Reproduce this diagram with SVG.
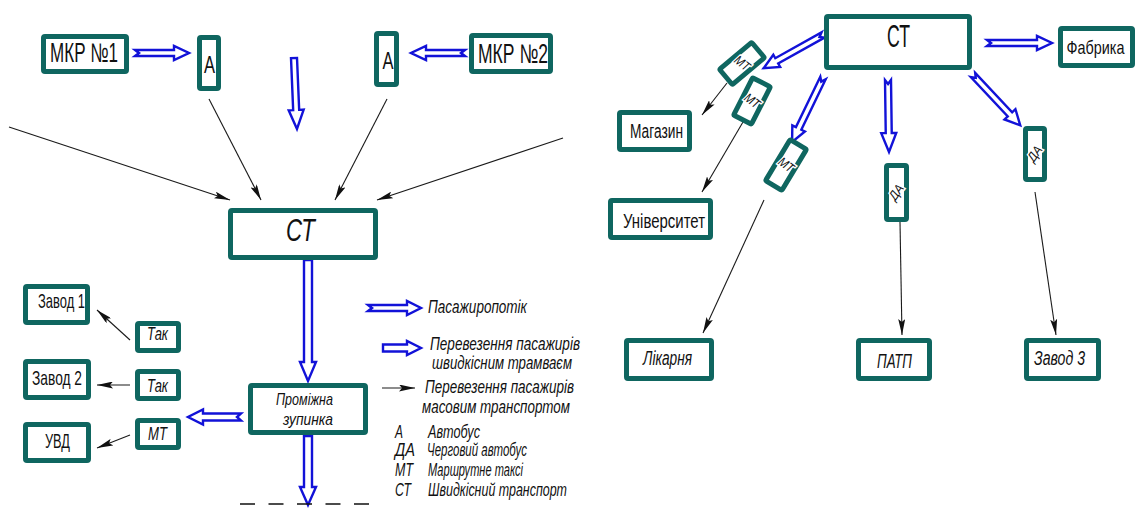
<svg xmlns="http://www.w3.org/2000/svg" width="1139" height="508" viewBox="0 0 1139 508">
  <style>
    .box { fill: #ffffff; stroke: #0f6660; stroke-width: 5; }
    .flow { fill: #ffffff; stroke: #1212d8; stroke-width: 2.4; stroke-linejoin: miter; }
    .link { fill: none; stroke: #1a1a1a; stroke-width: 1.1; marker-end: url(#tip); }
    .t { font-family: "Liberation Sans", "DejaVu Sans", sans-serif; fill: #111111; text-anchor: middle; }
    .i { font-style: italic; }
    .lg { font-family: "Liberation Sans", "DejaVu Sans", sans-serif; font-style: italic; fill: #111111; font-size: 18px; }
    .halo { paint-order: stroke; stroke: #ffffff; stroke-width: 3; }
  </style>
  <defs>
    <marker id="tip" markerUnits="userSpaceOnUse" viewBox="0 0 16 7" refX="16" refY="3.5" markerWidth="16" markerHeight="7" orient="auto">
      <path d="M0,0 L16,3.5 L0,7 L3,3.5 z" fill="#111111"/>
    </marker>
  </defs>
  <rect width="1139" height="508" fill="#ffffff"/>

  <!-- thin black links: mass transport -->
  <g id="connectors">
    <line class="link" x1="9" y1="127" x2="230" y2="200"/>
    <line class="link" x1="209" y1="99" x2="261" y2="200"/>
    <line class="link" x1="387" y1="99" x2="335" y2="200"/>
    <line class="link" x1="563" y1="138" x2="377" y2="200"/>
    <line class="link" x1="130" y1="340" x2="97" y2="310"/>
    <line class="link" x1="130" y1="385" x2="97" y2="385"/>
    <line class="link" x1="130" y1="435" x2="97" y2="448"/>
    <line class="link" x1="727" y1="83" x2="702" y2="115"/>
    <line class="link" x1="743" y1="122" x2="702" y2="192"/>
    <line class="link" x1="764" y1="200" x2="703" y2="333"/>
    <line class="link" x1="900" y1="222" x2="902" y2="335"/>
    <line class="link" x1="1035" y1="192" x2="1056" y2="335"/>

    <!-- hollow blue flow arrows -->
    <polygon class="flow" transform="translate(135,53)" points="0,-3 39,-3 39,-7 54,0 39,7 39,3 0,3 4,0"/>
    <polygon class="flow" transform="translate(465,53) rotate(180)" points="0,-3 39,-3 39,-7 54,0 39,7 39,3 0,3 4,0"/>
    <polygon class="flow" transform="translate(294,58) rotate(87.6)" points="0,-3 52,-3 52,-7.5 71,0 52,7.5 52,3 0,3"/>
    <polygon class="flow" transform="translate(308,260) rotate(90)" points="0,-4 102,-4 102,-8 121,0 102,8 102,4 0,4"/>
    <polygon class="flow" transform="translate(241,417) rotate(180)" points="0,-3.5 38,-3.5 38,-7.5 53,0 38,7.5 38,3.5 0,3.5 4,0"/>
    <polygon class="flow" transform="translate(308,436) rotate(90)" points="0,-4 51,-4 51,-8 69,0 51,8 51,4 0,4"/>
    <polygon class="flow" transform="translate(823,35) rotate(150.8)" points="0,-3 53,-3 53,-7 68,0 53,7 53,3 0,3 4,0"/>
    <polygon class="flow" transform="translate(823,78) rotate(115.8)" points="0,-3 56,-3 56,-7 71,0 56,7 56,3 0,3 4,0"/>
    <polygon class="flow" transform="translate(888,80) rotate(89.2)" points="0,-3 53,-3 53,-7.5 72,0 53,7.5 53,3 0,3 4,0"/>
    <polygon class="flow" transform="translate(973,75) rotate(46.8)" points="0,-3 54,-3 54,-7.5 69,0 54,7.5 54,3 0,3 4,0"/>
    <polygon class="flow" transform="translate(987,43)" points="0,-3 50,-3 50,-7 65,0 50,7 50,3 0,3 4,0"/>

    <!-- dashed line under the intermediate stop -->
    <line x1="240" y1="504" x2="370" y2="504" stroke="#111111" stroke-width="1.3" stroke-dasharray="15 13.5"/>
  </g>

  <!-- left scheme -->
  <g id="mkp1"><rect class="box" x="43.5" y="36.5" width="83" height="35" rx="1.5"/><text class="t" x="84" y="62" font-size="27" textLength="68" lengthAdjust="spacingAndGlyphs">МКР №1</text></g>
  <g id="bus1"><rect class="box" x="199.5" y="37.5" width="19" height="51" rx="1.5"/><text class="t" x="209.5" y="73" font-size="23" textLength="11" lengthAdjust="spacingAndGlyphs">А</text></g>
  <g id="bus2"><rect class="box" x="376.5" y="33.5" width="20" height="51" rx="1.5"/><text class="t" x="388" y="69" font-size="23" textLength="11" lengthAdjust="spacingAndGlyphs">А</text></g>
  <g id="mkp2"><rect class="box" x="471.5" y="35.5" width="79" height="36" rx="1.5"/><text class="t" x="513" y="63" font-size="27" textLength="70" lengthAdjust="spacingAndGlyphs">МКР №2</text></g>
  <g id="st-left"><rect class="box" x="230.5" y="210.5" width="145" height="47" rx="1.5"/><text class="t i" x="300.5" y="241" font-size="31" textLength="29" lengthAdjust="spacingAndGlyphs">СТ</text></g>
  <g id="zavod1"><rect class="box" x="25.5" y="286.5" width="62" height="36" rx="1.5"/><text class="t" x="61.5" y="308" font-size="21" textLength="47" lengthAdjust="spacingAndGlyphs">Завод 1</text></g>
  <g id="tak1"><rect class="box" x="137.5" y="323.5" width="41" height="27" rx="1.5"/><text class="t i" x="157.5" y="340" font-size="18" textLength="21" lengthAdjust="spacingAndGlyphs">Так</text></g>
  <g id="zavod2"><rect class="box" x="25.5" y="361.5" width="63" height="36" rx="1.5"/><text class="t" x="57" y="385" font-size="21" textLength="50" lengthAdjust="spacingAndGlyphs">Завод 2</text></g>
  <g id="tak2"><rect class="box" x="137.5" y="371.5" width="41" height="27" rx="1.5"/><text class="t i" x="157.5" y="392" font-size="18" textLength="21" lengthAdjust="spacingAndGlyphs">Так</text></g>
  <g id="uvd"><rect class="box" x="25.5" y="424.5" width="63" height="36" rx="1.5"/><text class="t" x="57.5" y="448" font-size="20" textLength="25" lengthAdjust="spacingAndGlyphs">УВД</text></g>
  <g id="mt-left"><rect class="box" x="137.5" y="420.5" width="41" height="27" rx="1.5"/><text class="t i" x="157.5" y="440" font-size="18" textLength="19" lengthAdjust="spacingAndGlyphs">МТ</text></g>
  <g id="stop"><rect class="box" x="250.5" y="385.5" width="115" height="47" rx="1.5"/>
    <text class="t i" x="304.5" y="405" font-size="17" textLength="57" lengthAdjust="spacingAndGlyphs">Проміжна</text>
    <text class="t i" x="308" y="425" font-size="17" textLength="50" lengthAdjust="spacingAndGlyphs">зупинка</text></g>

  <!-- legend -->
  <g id="legend">
    <polygon class="flow" transform="translate(368,308)" points="0,-3 39,-3 39,-7 53,0 39,7 39,3 0,3 4,0"/>
    <polygon class="flow" transform="translate(383,348)" points="0,-3.5 24,-3.5 24,-7 38,0 24,7 24,3.5 0,3.5"/>
    <line class="link" x1="382" y1="388" x2="415" y2="388"/>
    <text class="lg" x="428" y="313" textLength="99" lengthAdjust="spacingAndGlyphs">Пасажиропотік</text>
    <text class="lg" x="430" y="350" textLength="150" lengthAdjust="spacingAndGlyphs">Перевезення пасажирів</text>
    <text class="lg" x="432" y="369" textLength="140" lengthAdjust="spacingAndGlyphs">швидкісним трамваєм</text>
    <text class="lg" x="425" y="393" textLength="149" lengthAdjust="spacingAndGlyphs">Перевезення пасажирів</text>
    <text class="lg" x="422" y="413" textLength="148" lengthAdjust="spacingAndGlyphs">масовим транспортом</text>
    <text class="lg" x="395" y="438" textLength="8" lengthAdjust="spacingAndGlyphs">А</text>
    <text class="lg" x="428" y="438" textLength="52" lengthAdjust="spacingAndGlyphs">Автобус</text>
    <text class="lg" x="395" y="456" textLength="20" lengthAdjust="spacingAndGlyphs">ДА</text>
    <text class="lg" x="427" y="456" textLength="100" lengthAdjust="spacingAndGlyphs">Черговий автобус</text>
    <text class="lg" x="395" y="476" textLength="18" lengthAdjust="spacingAndGlyphs">МТ</text>
    <text class="lg" x="428" y="476" textLength="95" lengthAdjust="spacingAndGlyphs">Маршрутне таксі</text>
    <text class="lg" x="395" y="496" textLength="16" lengthAdjust="spacingAndGlyphs">СТ</text>
    <text class="lg" x="428" y="496" textLength="139" lengthAdjust="spacingAndGlyphs">Швидкісний транспорт</text>
  </g>

  <!-- right scheme -->
  <g id="st-right"><rect class="box" x="826.5" y="16.5" width="143" height="51" rx="1.5"/><text class="t" x="898.5" y="47" font-size="31" textLength="23" lengthAdjust="spacingAndGlyphs">СТ</text></g>
  <g id="fabryka"><rect class="box" x="1060.5" y="28.5" width="72" height="37" rx="1.5"/><text class="t" x="1095.5" y="54" font-size="19" textLength="58" lengthAdjust="spacingAndGlyphs">Фабрика</text></g>
  <g id="mt1" transform="translate(742,63.5) rotate(-40)"><rect class="box" x="-21" y="-10" width="42" height="20" rx="1.5"/><text class="t i halo" transform="rotate(78)" x="0" y="4" font-size="13" textLength="16" lengthAdjust="spacingAndGlyphs">МТ</text></g>
  <g id="mt2" transform="translate(752,101) rotate(-63)"><rect class="box" x="-21" y="-10" width="42" height="20" rx="1.5"/><text class="t i halo" transform="rotate(100)" x="0" y="4" font-size="13" textLength="16" lengthAdjust="spacingAndGlyphs">МТ</text></g>
  <g id="mt3" transform="translate(786,165) rotate(-59)"><rect class="box" x="-24" y="-9.5" width="48" height="19" rx="1.5"/><text class="t i halo" transform="rotate(96)" x="0" y="4" font-size="13" textLength="16" lengthAdjust="spacingAndGlyphs">МТ</text></g>
  <g id="magazyn"><rect class="box" x="619.5" y="112.5" width="70" height="37" rx="1.5"/><text class="t" x="656.5" y="138" font-size="20" textLength="53" lengthAdjust="spacingAndGlyphs">Магазин</text></g>
  <g id="universytet"><rect class="box" x="610.5" y="200.5" width="100" height="37" rx="1.5"/><text class="t" x="664" y="228" font-size="21" textLength="82" lengthAdjust="spacingAndGlyphs">Університет</text></g>
  <g id="da-mid"><rect class="box" x="886.5" y="165.5" width="20" height="54" rx="1.5"/><text class="t i halo" transform="translate(896.5,192.5) rotate(-55)" x="0" y="4" font-size="13" textLength="16" lengthAdjust="spacingAndGlyphs">ДА</text></g>
  <g id="da-right"><rect class="box" x="1025.5" y="128.5" width="19" height="51" rx="1.5"/><text class="t i halo" transform="translate(1035,154) rotate(-55)" x="0" y="4" font-size="13" textLength="16" lengthAdjust="spacingAndGlyphs">ДА</text></g>
  <g id="likarnia"><rect class="box" x="626.5" y="340.5" width="85" height="38" rx="1.5"/><text class="t i" x="667.5" y="365" font-size="20" textLength="49" lengthAdjust="spacingAndGlyphs">Лікарня</text></g>
  <g id="patp"><rect class="box" x="858.5" y="340.5" width="71" height="38" rx="1.5"/><text class="t i" x="894.5" y="368" font-size="20" textLength="35" lengthAdjust="spacingAndGlyphs">ПАТП</text></g>
  <g id="zavod3"><rect class="box" x="1026.5" y="340.5" width="72" height="38" rx="1.5"/><text class="t i" x="1059.5" y="365" font-size="20" textLength="51" lengthAdjust="spacingAndGlyphs">Завод 3</text></g>
</svg>
